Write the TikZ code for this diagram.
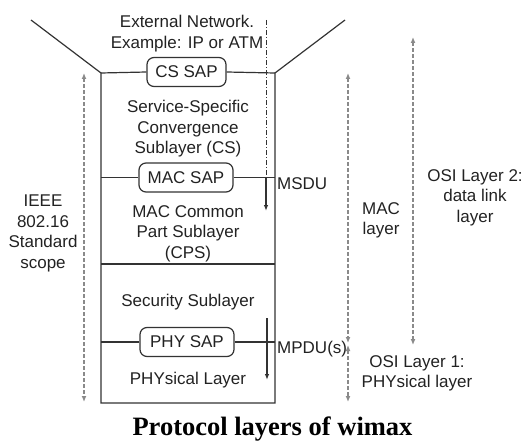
\documentclass[tikz,border=0pt]{standalone}
\usepackage{fontspec}
\setmainfont{Liberation Sans}
\newfontfamily\captionserif{Liberation Serif}
\usetikzlibrary{arrows.meta}

\definecolor{linegray}{HTML}{333333}
\definecolor{scopegray}{HTML}{8A8A8A}
\definecolor{labelink}{HTML}{222222}

\begin{document}
\begin{tikzpicture}[x=1pt,y=-1pt,
  lbl/.style={font=\fontsize{17}{20.5}\selectfont, text=labelink, inner sep=0pt, align=center},
  sap/.style={draw=linegray, line width=1.2pt, rounded corners=7pt, fill=white,
    minimum height=29pt, inner sep=0pt, font=\fontsize{17}{20.5}\selectfont, text=labelink},
  boxline/.style={draw=linegray, line width=1.2pt},
  flow/.style={draw=linegray, line width=1.1pt, -{Latex[length=6pt,width=4.5pt]}},
  dashdot/.style={draw=linegray, line width=1pt, dash pattern=on 5pt off 2pt on 1pt off 2pt},
  span/.style={draw=scopegray, line width=1.2pt, dash pattern=on 4pt off 2pt,
    {Latex[length=6pt,width=5pt]}-{Latex[length=6pt,width=5pt]}},
]
\useasboundingbox (0,0) rectangle (525,441);

% outline of the protocol stack and the funnel above it
\coordinate (tl) at (101,73);
\coordinate (tr) at (275,73);
\coordinate (bl) at (101,403);
\coordinate (br) at (275,403);
\coordinate (wl) at (31,20);
\coordinate (wr) at (345,20);
\draw[boxline] (wl) -- (tl) -- (bl) -- (br) -- (tr) -- (wr);

% service access points
\node[sap, minimum width=79pt] (cssap) at (186.5,72) {CS SAP};
\node[sap, minimum width=94pt] (macsap) at (186,177.5) {MAC SAP};
\node[sap, minimum width=94pt] (physap) at (187,342) {PHY SAP};

% layer boundaries
\draw[boxline] (tl) -- (cssap.west);
\draw[boxline] (cssap.east) -- (tr);
\draw[boxline] (macsap.west -| bl) -- (macsap.west);
\draw[boxline] (macsap.east) -- (macsap.east -| br);
\coordinate (secL) at (101,264);
\coordinate (secR) at (275,264);
\draw[boxline] (secL) -- (secR);
\draw[boxline] (physap.west -| bl) -- (physap.west);
\draw[boxline] (physap.east) -- (physap.east -| br);

% data units flowing down the stack
\coordinate (ddtop) at (266,20);
\coordinate (ddmid) at (266,177.5);
\coordinate (msduend) at (266,211);
\draw[dashdot] (ddtop) -- (ddmid);
\draw[flow] (ddmid) -- (msduend);
\coordinate (mpdutop) at (267,318);
\coordinate (mpduend) at (267,380);
\draw[flow] (mpdutop) -- (mpduend);

% extent markers
\coordinate (scopetop) at (84,73);
\coordinate (scopebot) at (84,402);
\coordinate (mactop) at (348,73);
\coordinate (macbot) at (348,343);
\coordinate (ositwotop) at (413,37);
\coordinate (ositwobot) at (413,345);
\coordinate (osionetop) at (348,345);
\coordinate (osionebot) at (348,402);
\draw[span] (scopetop) -- (scopebot);
\draw[span] (mactop) -- (macbot);
\draw[span] (ositwotop) -- (ositwobot);
\draw[span] (osionetop) -- (osionebot);

% texts
\node[lbl, anchor=north] (ext) at (187,15) {External Network.\\Example: IP or ATM};
\node[lbl, anchor=north] (cs) at (188,100) {Service-Specific\\Convergence\\Sublayer (CS)};
\node[lbl, anchor=north] (cps) at (188,205) {MAC Common\\Part Sublayer\\(CPS)};
\node[lbl, anchor=north] (sec) at (188,294) {Security Sublayer};
\node[lbl, anchor=north] (phy) at (188,372) {PHYsical Layer};
\node[lbl, anchor=north] (scope) at (43,195) {IEEE\\802.16\\Standard\\scope};
\node[lbl, anchor=north west] (msdu) at (277,177) {MSDU};
\node[lbl, anchor=north west] (mpdu) at (277,341) {MPDU(s)};
\node[lbl, anchor=north] (maclayer) at (381,202) {MAC\\layer};
\node[lbl, anchor=north] (ositwo) at (475,169) {OSI Layer 2:\\data link\\layer};
\node[lbl, anchor=north] (osione) at (417,355) {OSI Layer 1:\\PHYsical layer};

\node[anchor=base, inner sep=0pt, font=\captionserif\bfseries\fontsize{26.5}{30}\selectfont]
  (title) at (272.5,435) {Protocol layers of wimax};
\end{tikzpicture}
\end{document}
